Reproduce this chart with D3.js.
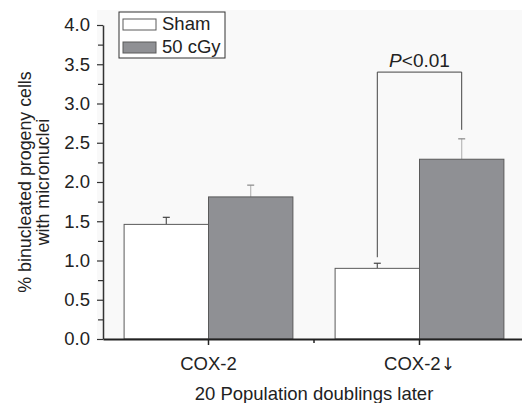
<!DOCTYPE html>
<html>
<head>
<meta charset="utf-8">
<script src="https://cdn.jsdelivr.net/npm/d3@7"></script>
<style>
  body { margin: 0; background: #fff; }
  text { font-family: "Liberation Sans", Arial, sans-serif; fill: #222; }
</style>
</head>
<body>
<svg width="522" height="403"></svg>
<script>
(() => {

    var width = 522;
    var height = 403;
    var margin = {top: 25, bottom: 64, left: 103, right: -3};

    // data
    var groups = ["COX-2", "COX-2\u2193"];
    var series = ["Sham", "50 cGy"];
    var means = [[1.46, 1.81], [0.90, 2.29]];
    var errs = [[0.09, 0.15], [0.065, 0.26]];
    var yTicks = [0, 0.5, 1, 1.5, 2, 2.5, 3, 3.5, 4];
    var yMinorTicks = [0.25, 0.75, 1.25, 1.75, 2.25, 2.75, 3.25, 3.75];
    var fills = ["#ffffff", "#8f9094"];

    var svg = d3.select("svg");

    var y = d3.scaleLinear()
        .domain([0, 4])
        .range([height - margin.bottom, margin.top]);
    var x0 = d3.scaleBand()
        .domain(groups)
        .range([margin.left, width - margin.right]);
    var x1 = d3.scaleBand()
        .domain(series)
        .range([0, x0.bandwidth()])
        .paddingOuter(0.25);

    // faint plot background
    svg.append("rect")
        .attr("x", margin.left - 6).attr("y", 10)
        .attr("width", width - margin.left + 6)
        .attr("height", y(0) - 10)
        .attr("fill", "#f9f9f9");

    var rows = [];
    groups.forEach((g, i) => {
        series.forEach((s, j) => {
            rows.push({g: g, s: s, j: j, v: means[i][j], e: errs[i][j]});
        });
    });

    // error bars (upper only)
    var eb = svg.selectAll(".err").data(rows).enter().append("g").attr("class", "err");
    eb.append("line")
        .attr("x1", d => x0(d.g) + x1(d.s) + x1.bandwidth() / 2)
        .attr("x2", d => x0(d.g) + x1(d.s) + x1.bandwidth() / 2)
        .attr("y1", d => y(d.v))
        .attr("y2", d => y(d.v + d.e))
        .attr("stroke", d => d.j ? "#b8b8b8" : "#555")
        .attr("stroke-width", 1.2);
    eb.append("line")
        .attr("x1", d => x0(d.g) + x1(d.s) + x1.bandwidth() / 2 - 3.5)
        .attr("x2", d => x0(d.g) + x1(d.s) + x1.bandwidth() / 2 + 3.5)
        .attr("y1", d => y(d.v + d.e))
        .attr("y2", d => y(d.v + d.e))
        .attr("stroke", d => d.j ? "#888" : "#444")
        .attr("stroke-width", 1.2);

    svg.selectAll(".bar").data(rows).enter().append("rect")
        .attr("class", "bar")
        .attr("x", d => x0(d.g) + x1(d.s))
        .attr("y", d => y(d.v))
        .attr("width", x1.bandwidth())
        .attr("height", d => y(0) - y(d.v))
        .attr("fill", d => fills[d.j])
        .attr("stroke", "#5a5a5a")
        .attr("stroke-width", 1);

    // significance bracket between the two COX-2 down bars
    var g2 = groups[1];
    var bx1 = x0(g2) + x1(series[0]) + x1.bandwidth() / 2;
    var bx2 = x0(g2) + x1(series[1]) + x1.bandwidth() / 2;
    var by = y(3.4);
    svg.append("path")
        .attr("d", "M" + bx1 + "," + (y(means[1][0] + errs[1][0]) - 6) +
            "V" + by + "H" + bx2 + "V" + (y(means[1][1] + errs[1][1]) - 9))
        .attr("fill", "none")
        .attr("stroke", "#444")
        .attr("stroke-width", 1);
    var pt = svg.append("text")
        .attr("x", (bx1 + bx2) / 2)
        .attr("y", by - 5)
        .attr("text-anchor", "middle")
        .style("font-size", "19px");
    pt.append("tspan").style("font-style", "italic").text("P");
    pt.append("tspan").text("<0.01");

    // axes
    var yAxis = d3.axisLeft(y)
        .tickValues(yTicks)
        .tickFormat(d3.format(".1f"))
        .tickSizeInner(6)
        .tickSizeOuter(0)
        .tickPadding(7);
    var ya = svg.append("g")
        .attr("transform", "translate(" + [margin.left, 0] + ")")
        .call(yAxis);
    ya.selectAll(".tick text").style("font-size", "18.5px").attr("fill", "#222");
    ya.select(".domain").attr("stroke", "#333").attr("stroke-width", 1.5);
    ya.selectAll(".tick line").attr("stroke", "#333").attr("stroke-width", 1.2);
    svg.append("g")
        .attr("transform", "translate(" + [margin.left, 0] + ")")
        .call(d3.axisLeft(y).tickValues(yMinorTicks).tickFormat("").tickSizeInner(5).tickSizeOuter(0))
        .call(g => g.select(".domain").remove())
        .selectAll("line").attr("stroke", "#333").attr("stroke-width", 1.2);

    var xAxis = d3.axisBottom(x0)
        .tickSizeInner(6)
        .tickSizeOuter(0)
        .tickPadding(12);
    var xa = svg.append("g")
        .attr("transform", "translate(" + [0, y(0)] + ")")
        .call(xAxis);
    xa.selectAll(".tick text")
        .style("font-size", "18.5px")
        .attr("fill", "#222")
        .each(function (d) {
            // draw the down arrow in DejaVu so it stays a plain dark glyph
            if (d.slice(-1) === "\u2193") {
                var t = d3.select(this).text(d.slice(0, -1));
                t.append("tspan")
                    .style("font-family", "'DejaVu Sans'")
                    .style("font-size", "17px")
                    .style("fill", "#222")
                    .text("\u2193");
            }
        });
    xa.select(".domain").attr("stroke", "#222").attr("stroke-width", 2);
    xa.selectAll(".tick line").attr("stroke", "#222").attr("stroke-width", 1.5);
    // minor tick between the groups
    xa.append("line")
        .attr("x1", x0(groups[1])).attr("x2", x0(groups[1]))
        .attr("y1", 0).attr("y2", 4)
        .attr("stroke", "#222").attr("stroke-width", 1.5);

    // axis titles
    svg.append("text")
        .attr("x", (margin.left + x0.range()[1]) / 2)
        .attr("y", 400)
        .attr("text-anchor", "middle")
        .style("font-size", "18.5px")
        .text("20 Population doublings later");
    var yt = svg.append("text")
        .attr("transform", "translate(31," + y(2) + ") rotate(-90)")
        .attr("text-anchor", "middle")
        .style("font-size", "17.8px");
    yt.append("tspan").attr("x", 0).attr("dy", 0).text("% binucleated progeny cells");
    yt.append("tspan").attr("x", 0).attr("dy", 18).text("with micronuclei");

    // legend
    var lg = svg.append("g").attr("transform", "translate(119,12)");
    lg.append("rect").attr("width", 106).attr("height", 46)
        .attr("fill", "#fff").attr("stroke", "#333").attr("stroke-width", 1);
    series.forEach((s, j) => {
        lg.append("rect")
            .attr("x", 4).attr("y", 7 + j * 23)
            .attr("width", 33).attr("height", 11)
            .attr("fill", fills[j]).attr("stroke", "#5a5a5a");
        lg.append("text")
            .attr("x", 43).attr("y", 18 + j * 23)
            .style("font-size", "18.5px")
            .text(s);
    });

})();
</script>
</body>
</html>
